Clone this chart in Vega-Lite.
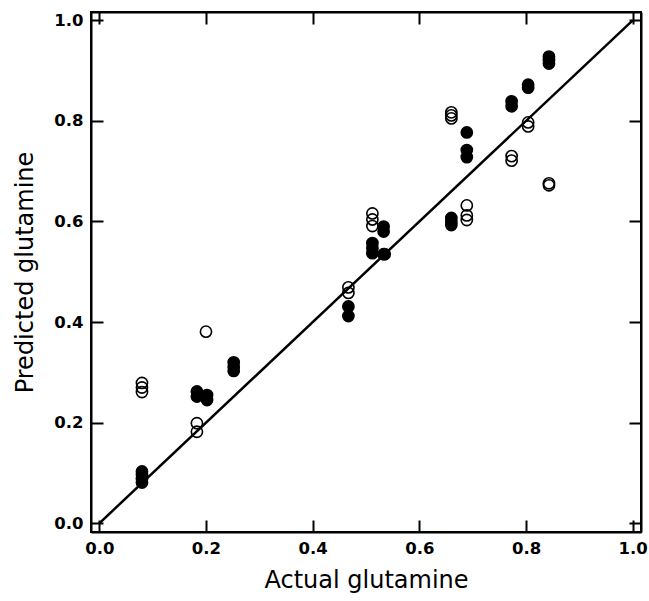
{
  "$schema": "https://vega.github.io/schema/vega-lite/v6.json",
  "width": 550,
  "height": 520,
  "autosize": {"type": "none"},
  "padding": {"left": 91, "top": 12, "right": 8, "bottom": 69},
  "background": "white",
  "config": {
    "view": {"stroke": "black", "strokeWidth": 2},
    "font": "DejaVu Sans",
    "axis": {
      "labelFont": "DejaVu Sans",
      "titleFont": "DejaVu Sans",
      "labelColor": "black",
      "titleColor": "black",
      "domainColor": "black",
      "domainWidth": 2,
      "tickColor": "black",
      "tickWidth": 2,
      "tickSize": -12,
      "grid": false,
      "labelFontSize": 16.5,
      "labelFontWeight": "bold",
      "titleFontSize": 24,
      "titleFontWeight": "normal"
    }
  },
  "datasets": {
    "pts": [
      {"actual": 0.080, "predicted": 0.103, "kind": "filled"},
      {"actual": 0.080, "predicted": 0.097, "kind": "filled"},
      {"actual": 0.080, "predicted": 0.088, "kind": "filled"},
      {"actual": 0.080, "predicted": 0.081, "kind": "filled"},
      {"actual": 0.183, "predicted": 0.262, "kind": "filled"},
      {"actual": 0.183, "predicted": 0.252, "kind": "filled"},
      {"actual": 0.202, "predicted": 0.255, "kind": "filled"},
      {"actual": 0.202, "predicted": 0.245, "kind": "filled"},
      {"actual": 0.252, "predicted": 0.320, "kind": "filled"},
      {"actual": 0.252, "predicted": 0.311, "kind": "filled"},
      {"actual": 0.252, "predicted": 0.303, "kind": "filled"},
      {"actual": 0.467, "predicted": 0.431, "kind": "filled"},
      {"actual": 0.467, "predicted": 0.412, "kind": "filled"},
      {"actual": 0.512, "predicted": 0.557, "kind": "filled"},
      {"actual": 0.512, "predicted": 0.547, "kind": "filled"},
      {"actual": 0.512, "predicted": 0.537, "kind": "filled"},
      {"actual": 0.533, "predicted": 0.590, "kind": "filled"},
      {"actual": 0.533, "predicted": 0.580, "kind": "filled"},
      {"actual": 0.533, "predicted": 0.535, "kind": "filled"},
      {"actual": 0.660, "predicted": 0.607, "kind": "filled"},
      {"actual": 0.660, "predicted": 0.600, "kind": "filled"},
      {"actual": 0.660, "predicted": 0.593, "kind": "filled"},
      {"actual": 0.689, "predicted": 0.777, "kind": "filled"},
      {"actual": 0.689, "predicted": 0.742, "kind": "filled"},
      {"actual": 0.689, "predicted": 0.728, "kind": "filled"},
      {"actual": 0.773, "predicted": 0.839, "kind": "filled"},
      {"actual": 0.773, "predicted": 0.829, "kind": "filled"},
      {"actual": 0.804, "predicted": 0.872, "kind": "filled"},
      {"actual": 0.804, "predicted": 0.866, "kind": "filled"},
      {"actual": 0.843, "predicted": 0.928, "kind": "filled"},
      {"actual": 0.843, "predicted": 0.921, "kind": "filled"},
      {"actual": 0.843, "predicted": 0.914, "kind": "filled"},
      {"actual": 0.080, "predicted": 0.279, "kind": "open"},
      {"actual": 0.080, "predicted": 0.270, "kind": "open"},
      {"actual": 0.080, "predicted": 0.261, "kind": "open"},
      {"actual": 0.183, "predicted": 0.199, "kind": "open"},
      {"actual": 0.183, "predicted": 0.182, "kind": "open"},
      {"actual": 0.200, "predicted": 0.381, "kind": "open"},
      {"actual": 0.467, "predicted": 0.469, "kind": "open"},
      {"actual": 0.467, "predicted": 0.458, "kind": "open"},
      {"actual": 0.512, "predicted": 0.616, "kind": "open"},
      {"actual": 0.512, "predicted": 0.604, "kind": "open"},
      {"actual": 0.512, "predicted": 0.591, "kind": "open"},
      {"actual": 0.535, "predicted": 0.535, "kind": "open"},
      {"actual": 0.660, "predicted": 0.817, "kind": "open"},
      {"actual": 0.660, "predicted": 0.811, "kind": "open"},
      {"actual": 0.660, "predicted": 0.805, "kind": "open"},
      {"actual": 0.689, "predicted": 0.632, "kind": "open"},
      {"actual": 0.689, "predicted": 0.612, "kind": "open"},
      {"actual": 0.689, "predicted": 0.603, "kind": "open"},
      {"actual": 0.773, "predicted": 0.730, "kind": "open"},
      {"actual": 0.773, "predicted": 0.721, "kind": "open"},
      {"actual": 0.804, "predicted": 0.797, "kind": "open"},
      {"actual": 0.804, "predicted": 0.789, "kind": "open"},
      {"actual": 0.843, "predicted": 0.676, "kind": "open"},
      {"actual": 0.843, "predicted": 0.672, "kind": "open"}
    ],
    "diag": [
      {"actual": 0, "predicted": 0},
      {"actual": 1, "predicted": 1}
    ]
  },
  "resolve": {"axis": {"x": "independent", "y": "independent"}},
  "layer": [
    {
      "data": {"name": "diag"},
      "mark": {"type": "line", "color": "black", "strokeWidth": 2.5},
      "encoding": {
        "x": {
          "field": "actual", "type": "quantitative",
          "scale": {"domain": [-0.01556, 1.01556], "nice": false, "zero": false},
          "axis": {
            "orient": "bottom", "values": [0, 0.2, 0.4, 0.6, 0.8, 1.0], "format": ".1f",
            "title": "Actual glutamine", "labelPadding": 20, "titlePadding": 12
          }
        },
        "y": {
          "field": "predicted", "type": "quantitative",
          "scale": {"domain": [-0.0173, 1.0165], "nice": false, "zero": false},
          "axis": {
            "orient": "left", "values": [0, 0.2, 0.4, 0.6, 0.8, 1.0], "format": ".1f",
            "title": "Predicted glutamine", "labelPadding": 20, "titlePadding": 16
          }
        }
      }
    },
    {
      "data": {"name": "pts"},
      "mark": {"type": "point", "shape": "circle", "stroke": "black", "strokeWidth": 1.6, "size": 125, "opacity": 1},
      "encoding": {
        "x": {
          "field": "actual", "type": "quantitative",
          "axis": {
            "orient": "top", "values": [0, 0.2, 0.4, 0.6, 0.8, 1.0],
            "labels": false, "title": null
          }
        },
        "y": {
          "field": "predicted", "type": "quantitative",
          "axis": {
            "orient": "right", "values": [0, 0.2, 0.4, 0.6, 0.8, 1.0],
            "labels": false, "title": null
          }
        },
        "fill": {
          "field": "kind", "type": "nominal",
          "scale": {"domain": ["filled", "open"], "range": ["#000000", "transparent"]},
          "legend": null
        }
      }
    }
  ]
}
